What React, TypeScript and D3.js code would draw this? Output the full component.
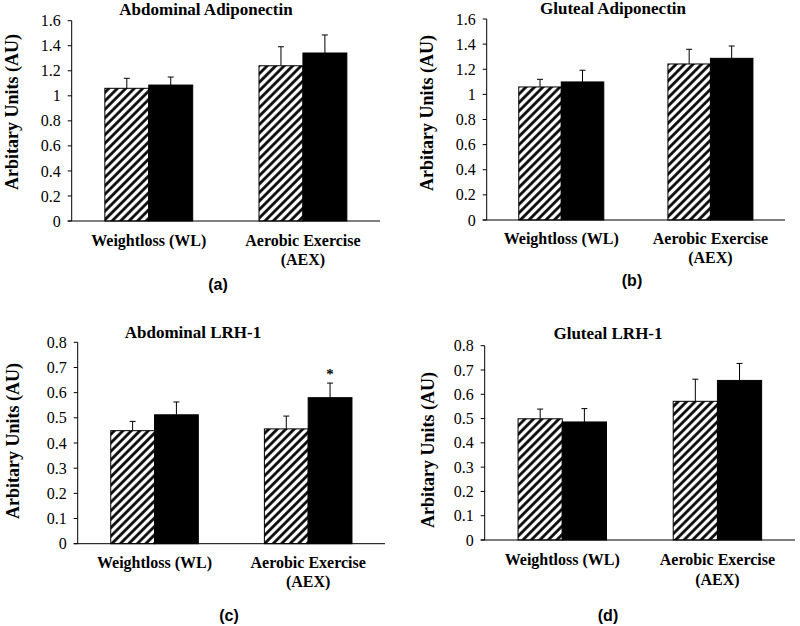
import React from "react";
import * as d3 from "d3";

// ---------- data ----------
const categories = ["Weightloss (WL)", "Aerobic Exercise (AEX)"];
const categoryLines = [["Weightloss (WL)"], ["Aerobic Exercise", "(AEX)"]];
const seriesNames = ["Hatched", "Solid"];

const titles = ["Abdominal Adiponectin", "Gluteal Adiponectin", "Abdominal LRH-1", "Gluteal LRH-1"];
const panelLetters = ["(a)", "(b)", "(c)", "(d)"];
const yLabel = "Arbitary Units (AU)";

const adipoTicks = [0, 0.2, 0.4, 0.6, 0.8, 1, 1.2, 1.4, 1.6];
const lrhTicks = [0, 0.1, 0.2, 0.3, 0.4, 0.5, 0.6, 0.7, 0.8];

const abdAdipoHatched = [1.06, 1.24];
const abdAdipoHatchedErr = [0.08, 0.152];
const abdAdipoSolid = [1.086, 1.342];
const abdAdipoSolidErr = [0.064, 0.144];

const gluAdipoHatched = [1.059, 1.242];
const gluAdipoHatchedErr = [0.061, 0.117];
const gluAdipoSolid = [1.099, 1.287];
const gluAdipoSolidErr = [0.093, 0.098];

const abdLrhHatched = [0.449, 0.456];
const abdLrhHatchedErr = [0.037, 0.051];
const abdLrhSolid = [0.512, 0.58];
const abdLrhSolidErr = [0.051, 0.058];

const gluLrhHatched = [0.499, 0.571];
const gluLrhHatchedErr = [0.04, 0.091];
const gluLrhSolid = [0.486, 0.657];
const gluLrhSolidErr = [0.055, 0.07];

// significance markers: [panel, category index, series index]
const sigMarks = [[2, 1, 1]];

// ---------- layout ----------
const panels = [
  { x0: 71.7, x1: 380, yTop: 20.7, y0: 221, ticks: adipoTicks, vals: [abdAdipoHatched, abdAdipoSolid], errs: [abdAdipoHatchedErr, abdAdipoSolidErr],
    titleX: 206, titleY: 15, ylx: 12, yly: 112, labY: 245.5, lab2Y: 264.5, letterX: 218, letterY: 290 },
  { x0: 486.7, x1: 785, yTop: 19, y0: 220, ticks: adipoTicks, vals: [gluAdipoHatched, gluAdipoSolid], errs: [gluAdipoHatchedErr, gluAdipoSolidErr],
    titleX: 613, titleY: 14, ylx: 427, yly: 113, labY: 244, lab2Y: 263, letterX: 632, letterY: 286 },
  { x0: 77.7, x1: 385, yTop: 342.3, y0: 543.7, ticks: lrhTicks, vals: [abdLrhHatched, abdLrhSolid], errs: [abdLrhHatchedErr, abdLrhSolidErr],
    titleX: 193, titleY: 338, ylx: 13, yly: 441, labY: 568, lab2Y: 587, letterX: 229, letterY: 621 },
  { x0: 484.7, x1: 795, yTop: 345.7, y0: 540, ticks: lrhTicks, vals: [gluLrhHatched, gluLrhSolid], errs: [gluLrhHatchedErr, gluLrhSolidErr],
    titleX: 608, titleY: 339, ylx: 428, yly: 450, labY: 565, lab2Y: 585, letterX: 608, letterY: 621 },
];

const serif = "'Liberation Serif', 'Times New Roman', serif";
const sans = "'Liberation Sans', Arial, sans-serif";

function Panel({ p, idx }: { p: any; idx: number }) {
  const maxV = p.ticks[p.ticks.length - 1];
  const y = d3.scaleLinear().domain([0, maxV]).range([p.y0, p.yTop]);
  const x = d3.scaleBand().domain(categories).range([p.x0, p.x1]).padding(0);
  const barW = x.bandwidth() * 0.285;
  const fmt = (v: number) => String(+v.toFixed(1));
  const sub = d3.scaleBand().domain(seriesNames).range([-barW, barW]).padding(0);

  return (
    <g>
      <text x={p.titleX} y={p.titleY} textAnchor="middle" fontFamily={serif} fontWeight="bold" fontSize={17}>
        {titles[idx]}
      </text>
      <text
        transform={`translate(${p.ylx},${p.yly}) rotate(-90)`}
        textAnchor="middle"
        dominantBaseline="central"
        fontFamily={serif}
        fontWeight="bold"
        fontSize={18}
      >
        {yLabel}
      </text>
      {/* bars */}
      {categories.map((c, ci) =>
        seriesNames.map((s, si) => {
          const v = p.vals[si][ci];
          const e = p.errs[si][ci];
          const cx = (x(c) as number) + x.bandwidth() / 2;
          const bx = cx + (sub(s) as number);
          const ex = bx + barW / 2;
          return (
            <g key={`${ci}-${si}`}>
              <line x1={ex} x2={ex} y1={y(v)} y2={y(v + e)} stroke="#000" strokeWidth={1} />
              <line x1={ex - 3} x2={ex + 3} y1={y(v + e)} y2={y(v + e)} stroke="#000" strokeWidth={1} />
              <rect
                x={bx}
                y={y(v)}
                width={barW}
                height={p.y0 - y(v)}
                fill={si === 0 ? "url(#hatch)" : "#000"}
                stroke="#000"
                strokeWidth={1}
              />
            </g>
          );
        })
      )}
      {sigMarks
        .filter((m) => m[0] === idx)
        .map((m, k) => {
          const c = categories[m[1]];
          const s = seriesNames[m[2]];
          const cx = (x(c) as number) + x.bandwidth() / 2 + (sub(s) as number) + barW / 2;
          const top = p.vals[m[2]][m[1]] + p.errs[m[2]][m[1]];
          return (
            <text key={k} x={cx} y={y(top) - 4} textAnchor="middle" fontFamily={serif} fontWeight="bold" fontSize={15}>
              *
            </text>
          );
        })}
      {/* axes */}
      <line x1={p.x0} x2={p.x0} y1={p.yTop} y2={p.y0} stroke="#000" strokeWidth={1} />
      <line x1={p.x0 - 4} x2={p.x1} y1={p.y0} y2={p.y0} stroke="#000" strokeWidth={1} />
      {p.ticks.map((t: number) => (
        <g key={t}>
          <line x1={p.x0 - 4} x2={p.x0} y1={y(t)} y2={y(t)} stroke="#000" strokeWidth={1} />
          <text x={p.x0 - 11} y={y(t)} dy="0.35em" textAnchor="end" fontFamily={serif} fontSize={16}>
            {fmt(t)}
          </text>
        </g>
      ))}
      {categories.map((c, ci) => {
        const cx = (x(c) as number) + x.bandwidth() / 2;
        return categoryLines[ci].map((ln, li) => (
          <text
            key={`${ci}-${li}`}
            x={cx}
            y={li === 0 ? p.labY : p.lab2Y}
            textAnchor="middle"
            fontFamily={serif}
            fontWeight="bold"
            fontSize={16}
          >
            {ln}
          </text>
        ));
      })}
      <text x={p.letterX} y={p.letterY} textAnchor="middle" fontFamily={sans} fontWeight="bold" fontSize={16}>
        {panelLetters[idx]}
      </text>
    </g>
  );
}

export default function App() {
  return (
    <svg
      width={800}
      height={626}
      style={{ position: "absolute", left: 0, top: 0, background: "#fff" }}
    >
      <defs>
        <pattern id="hatch" patternUnits="userSpaceOnUse" width={6} height={6} patternTransform="rotate(45)">
          <rect width={6} height={6} fill="#fff" />
          <line x1={1.5} y1={-1} x2={1.5} y2={7} stroke="#000" strokeWidth={2.7} />
        </pattern>
      </defs>
      <rect width={800} height={626} fill="#fff" />
      {panels.map((p, i) => (
        <Panel key={i} p={p} idx={i} />
      ))}
    </svg>
  );
}
